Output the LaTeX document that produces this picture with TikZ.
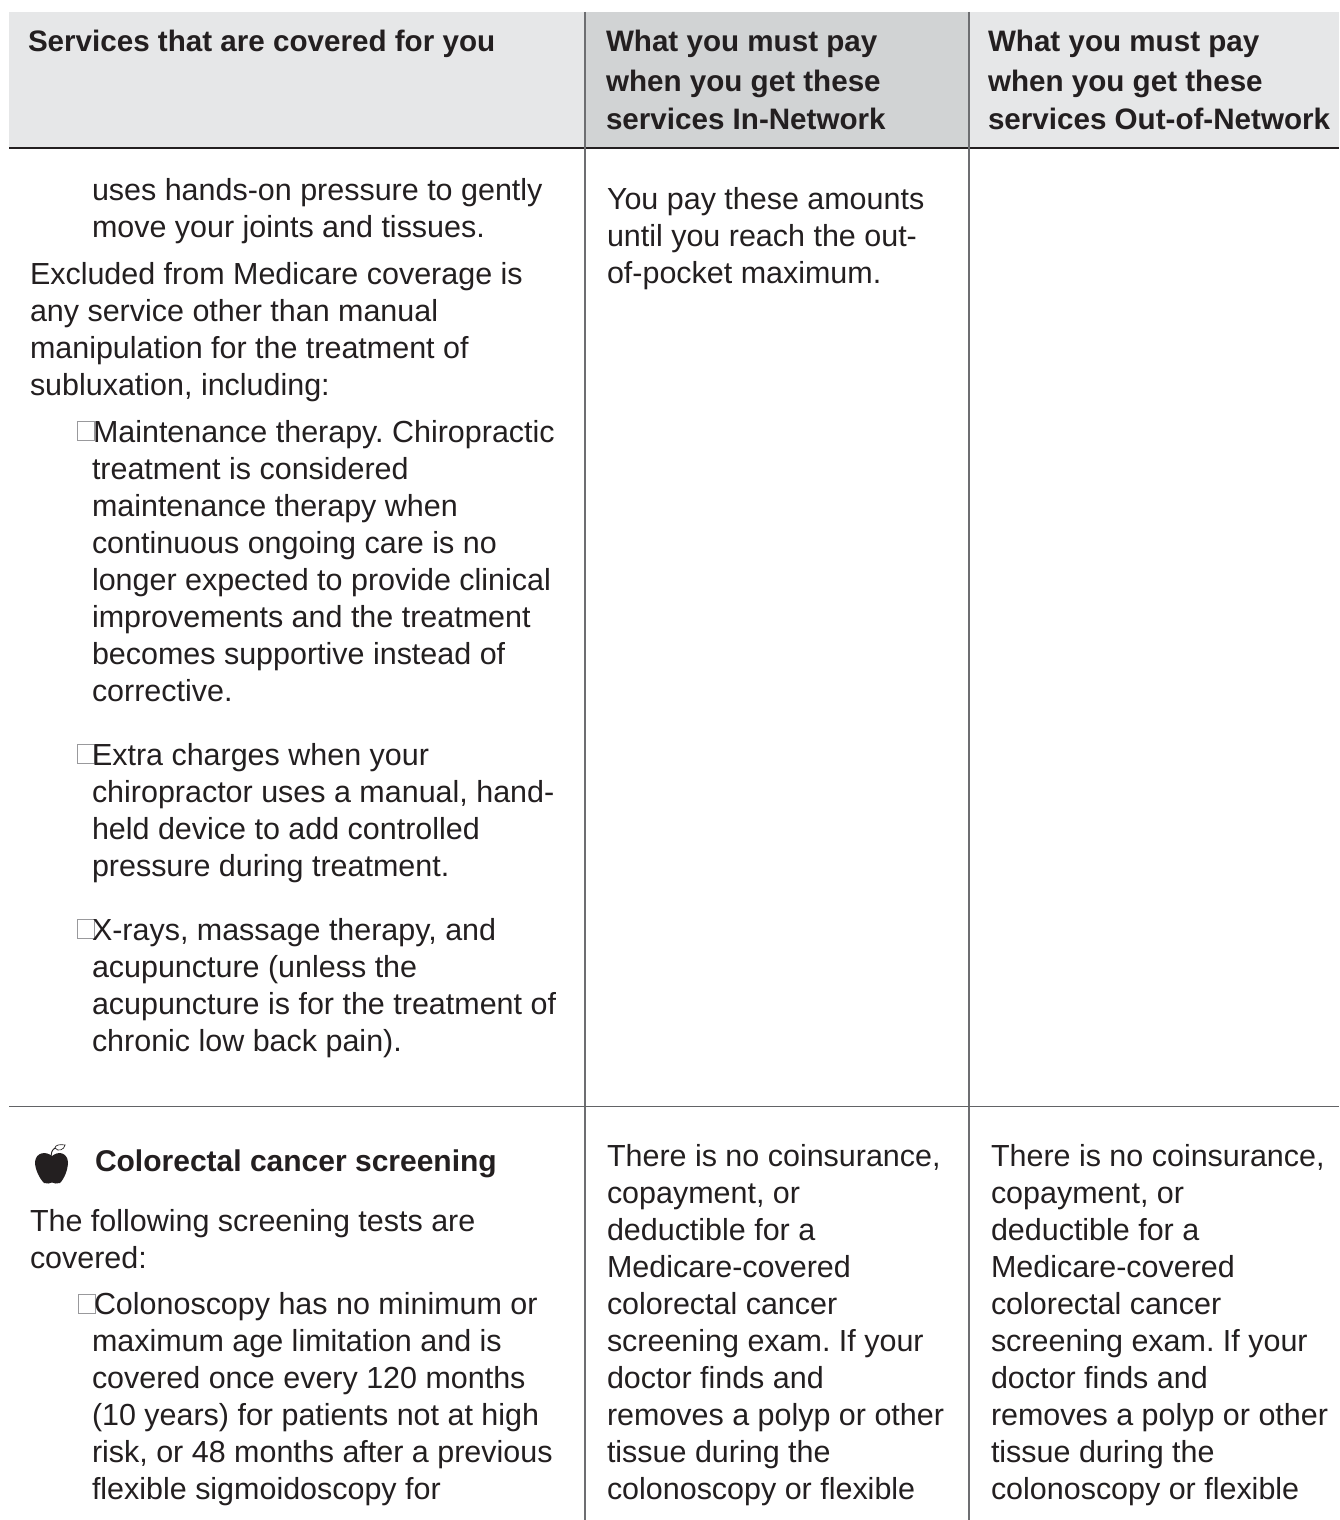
\documentclass[tikz,border=0pt]{standalone}
\usepackage{fontspec}
\setmainfont{Liberation Sans}
\frenchspacing
\definecolor{ink}{HTML}{231F20}
\definecolor{headlight}{HTML}{E6E7E8}
\definecolor{headdark}{HTML}{D1D3D4}
\definecolor{rulegray}{HTML}{6D6E71}
\tikzset{
  body/.style={anchor=base west,inner sep=0pt,outer sep=0pt,text=ink,font=\fontsize{22.85pt}{26pt}\selectfont},
  head/.style={anchor=base west,inner sep=0pt,outer sep=0pt,text=ink,font=\fontsize{22.2pt}{26pt}\selectfont\bfseries},
  tickbox/.style={draw=rulegray!70,line width=0.5pt,fill=white,inner sep=0pt,minimum width=12.4pt,minimum height=14.4pt,anchor=north west},
  vrule/.style={draw=rulegray,line width=1.4pt},
  hrule/.style={draw=ink,line width=1.3pt}
}
\begin{document}
\begin{tikzpicture}[x=0.75pt,y=-0.75pt]
\useasboundingbox[fill=white] (0,0) rectangle (1339,1520);
% header bands
\fill[headlight] (9,12) rectangle (585,148);
\fill[headdark] (585,12) rectangle (969,148);
\fill[headlight] (969,12) rectangle (1339,148);
% rules
\draw[hrule] (9,148) -- (1339,148);
\draw[vrule] (585,12) -- (585,1520);
\draw[vrule] (969,12) -- (969,1520);
\draw[draw=rulegray!90!black,line width=1.3pt] (9,1106.5) -- (1339,1106.5);
% headers
\node[head] (h1) at (28,52) {Services that are covered for you};
\node[head] (h2a) at (606,52) {What you must pay};
\node[head] (h2b) at (606,91) {when you get these};
\node[head] (h2c) at (606,129) {services In-Network};
\node[head] (h3a) at (988,52) {What you must pay};
\node[head] (h3b) at (988,91) {when you get these};
\node[head] (h3c) at (988,129) {services Out-of-Network};
% column 1
\node[body] (a1) at (92,200) {uses hands-on pressure to gently};
\node[body] (a2) at (92,237) {move your joints and tissues.};
\node[body] (b1) at (30,284) {Excluded from Medicare coverage is};
\node[body] (b2) at (30,321) {any service other than manual};
\node[body] (b3) at (30,358) {manipulation for the treatment of};
\node[body] (b4) at (30,395) {subluxation, including:};
\node[tickbox] (t1) at (77,421) {};
\node[body] (c1) at (93,442) {Maintenance therapy. Chiropractic};
\node[body] (c2) at (92,479) {treatment is considered};
\node[body] (c3) at (92,516) {maintenance therapy when};
\node[body] (c4) at (92,553) {continuous ongoing care is no};
\node[body] (c5) at (92,590) {longer expected to provide clinical};
\node[body] (c6) at (92,627) {improvements and the treatment};
\node[body] (c7) at (92,664) {becomes supportive instead of};
\node[body] (c8) at (92,701) {corrective.};
\node[tickbox] (t2) at (77,744) {};
\node[body] (d1) at (92,765) {Extra charges when your};
\node[body] (d2) at (92,802) {chiropractor uses a manual, hand-};
\node[body] (d3) at (92,839) {held device to add controlled};
\node[body] (d4) at (92,876) {pressure during treatment.};
\node[tickbox] (t3) at (77,919) {};
\node[body] (e1) at (92,940) {X-rays, massage therapy, and};
\node[body] (e2) at (92,977) {acupuncture (unless the};
\node[body] (e3) at (92,1014) {acupuncture is for the treatment of};
\node[body] (e4) at (92,1051) {chronic low back pain).};
% apple icon
\fill[ink] (52,1156)
  .. controls (46,1151) and (36,1152) .. (35,1162)
  .. controls (35,1170) and (40,1179) .. (44,1183)
  .. controls (47,1184) and (50,1183.5) .. (52,1182.5)
  .. controls (54,1183.5) and (57,1184) .. (60,1183)
  .. controls (64,1179) and (68,1170) .. (68,1162)
  .. controls (67,1152) and (58,1151) .. (52,1156) -- cycle;
\draw[ink,line width=0.7pt] (51,1156) .. controls (51,1153) and (52,1150) .. (55,1148);
\draw[ink,line width=0.5pt] (55,1148) .. controls (55,1145) and (60,1144) .. (65,1145)
  .. controls (64,1150) and (58,1152) .. (55,1148) -- cycle;
\node[head,font=\fontsize{22.5pt}{26pt}\selectfont\bfseries] (f0) at (95,1171) {Colorectal cancer screening};
\node[body] (f1) at (30,1231) {The following screening tests are};
\node[body] (f2) at (30,1268) {covered:};
\node[tickbox] (t4) at (78,1294) {};
\node[body] (g1) at (94,1314) {Colonoscopy has no minimum or};
\node[body] (g2) at (92,1351) {maximum age limitation and is};
\node[body] (g3) at (92,1388) {covered once every 120 months};
\node[body] (g4) at (92,1425) {(10 years) for patients not at high};
\node[body] (g5) at (92,1462) {risk, or 48 months after a previous};
\node[body] (g6) at (92,1499) {flexible sigmoidoscopy for};
% column 2
\node[body] (m1) at (607,209) {You pay these amounts};
\node[body] (m2) at (607,246) {until you reach the out-};
\node[body] (m3) at (607,283) {of-pocket maximum.};
\node[body] (p1) at (607,1166.5) {There is no coinsurance,};
\node[body] (p2) at (607,1203.5) {copayment, or};
\node[body] (p3) at (607,1240.5) {deductible for a};
\node[body] (p4) at (607,1277.5) {Medicare-covered};
\node[body] (p5) at (607,1314.5) {colorectal cancer};
\node[body] (p6) at (607,1351.5) {screening exam. If your};
\node[body] (p7) at (607,1388.5) {doctor finds and};
\node[body] (p8) at (607,1425.5) {removes a polyp or other};
\node[body] (p9) at (607,1462.5) {tissue during the};
\node[body] (p10) at (607,1499.5) {colonoscopy or flexible};
% column 3
\node[body] (q1) at (991,1166.5) {There is no coinsurance,};
\node[body] (q2) at (991,1203.5) {copayment, or};
\node[body] (q3) at (991,1240.5) {deductible for a};
\node[body] (q4) at (991,1277.5) {Medicare-covered};
\node[body] (q5) at (991,1314.5) {colorectal cancer};
\node[body] (q6) at (991,1351.5) {screening exam. If your};
\node[body] (q7) at (991,1388.5) {doctor finds and};
\node[body] (q8) at (991,1425.5) {removes a polyp or other};
\node[body] (q9) at (991,1462.5) {tissue during the};
\node[body] (q10) at (991,1499.5) {colonoscopy or flexible};
\end{tikzpicture}
\end{document}
